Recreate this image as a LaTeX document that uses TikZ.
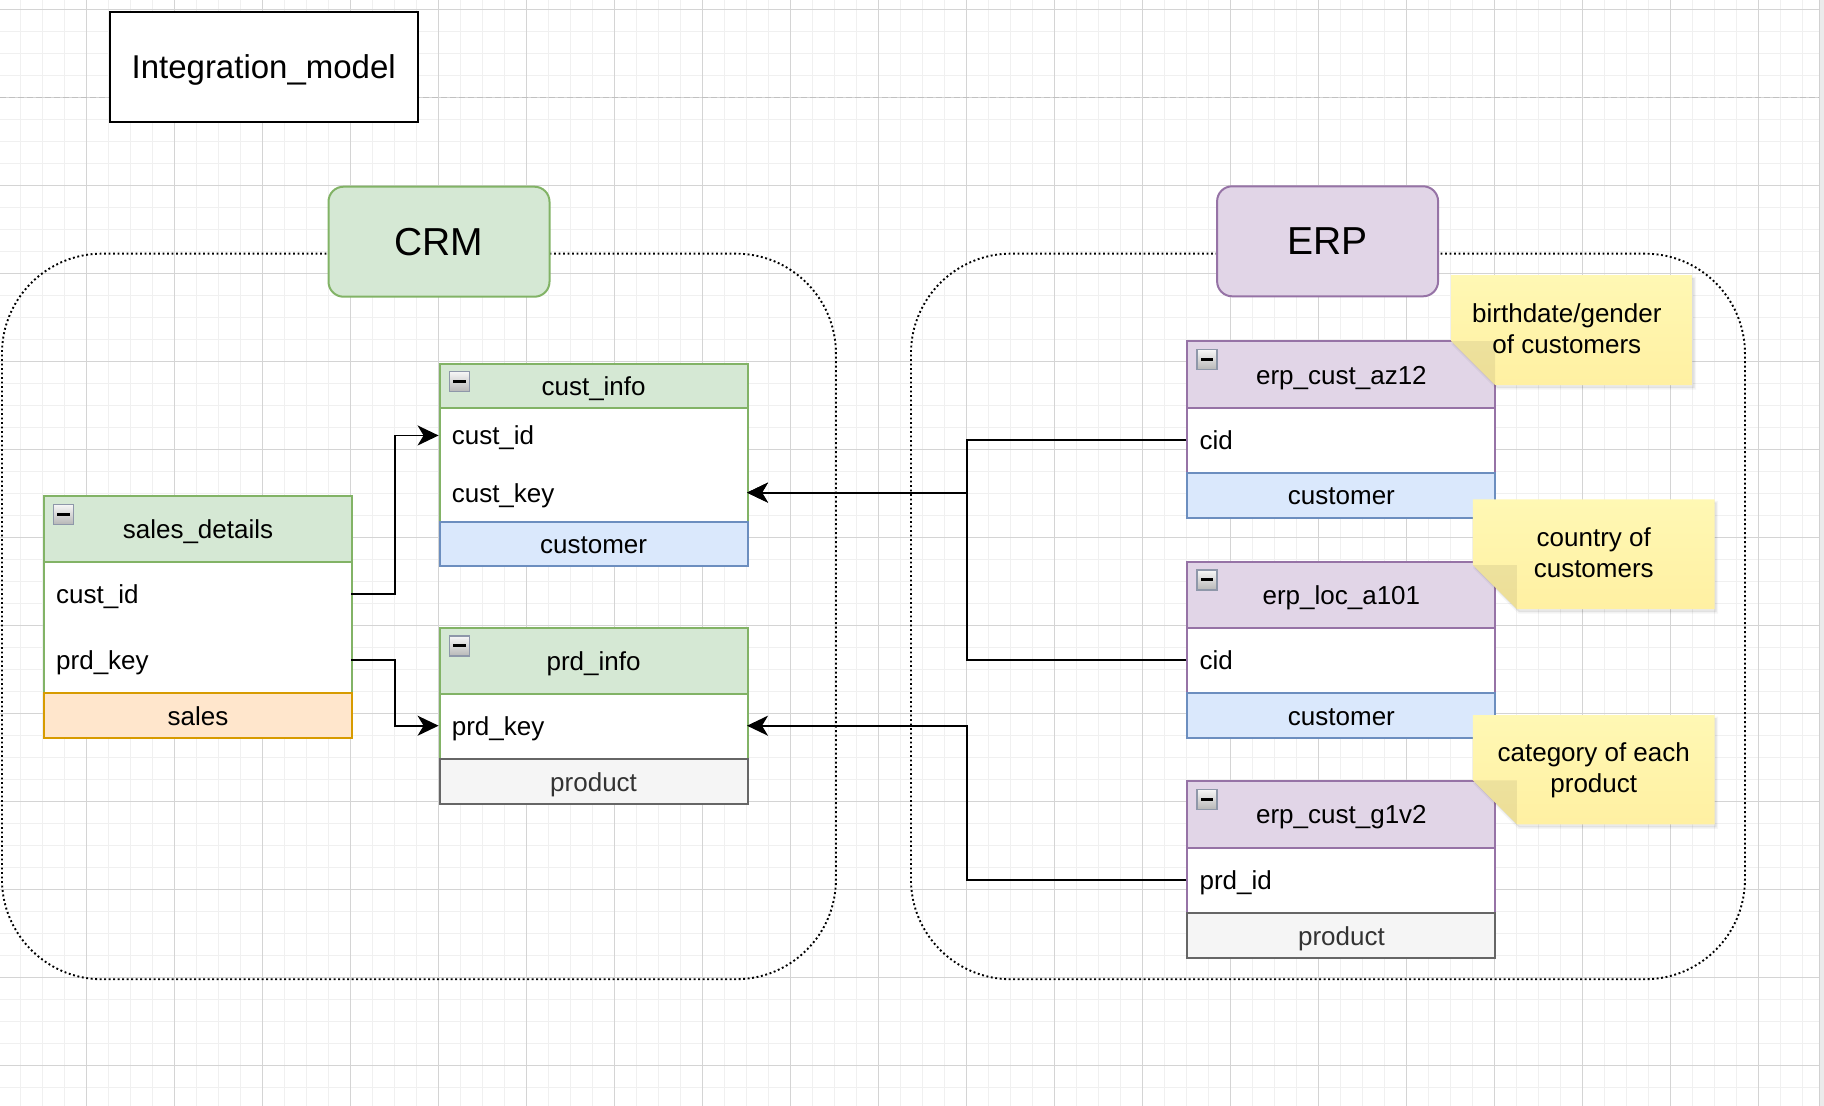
\documentclass[tikz,border=0pt]{standalone}
\usepackage{fontspec}
\setmainfont{Liberation Sans}
\usetikzlibrary{calc,arrows.meta}

% palette
\definecolor{gridminor}{HTML}{F0F0F0}
\definecolor{gridmajor}{HTML}{D4D4D4}
\definecolor{pagebrk}{HTML}{C0C0C0}
\definecolor{grnfill}{HTML}{D5E8D4}
\definecolor{grnline}{HTML}{82B366}
\definecolor{purfill}{HTML}{E1D5E7}
\definecolor{purline}{HTML}{9673A6}
\definecolor{bluefill}{HTML}{DAE8FC}
\definecolor{blueline}{HTML}{6C8EBF}
\definecolor{orgfill}{HTML}{FFE6CC}
\definecolor{orgline}{HTML}{D79B00}
\definecolor{grayfill}{HTML}{F5F5F5}
\definecolor{grayline}{HTML}{666666}
\definecolor{graytext}{HTML}{333333}
\definecolor{notetop}{HTML}{FFF8B4}
\definecolor{notebot}{HTML}{FFF0A2}
\definecolor{iconline}{HTML}{8E97A9}

\newcommand\fsField{\fontsize{26pt}{31pt}\selectfont}
\newcommand\fsTitle{\fontsize{33pt}{40pt}\selectfont}
\newcommand\fsLabel{\fontsize{39pt}{47pt}\selectfont}

% sticky note: name, left, top, right, bottom, text x-offset, text
\newcommand\stickynote[7]{%
  \fill[black, opacity=.08, shift={(2pt,-3pt)}]
    (#2,#3) -- (#4,#3) -- (#4,#5) -- ({#2+44},#5) -- (#2,{#5-44}) -- cycle;
  \draw[black, opacity=.04, line width=3pt, shift={(2pt,-3pt)}]
    (#2,#3) -- (#4,#3) -- (#4,#5) -- ({#2+44},#5) -- (#2,{#5-44}) -- cycle;
  \shade[top color=notetop, bottom color=notebot]
    (#2,#3) -- (#4,#3) -- (#4,#5) -- ({#2+44},#5) -- (#2,{#5-44}) -- cycle;
  \fill[black, opacity=.07] (#2,{#5-44}) -- ({#2+44},{#5-44}) -- ({#2+44},#5) -- cycle;
  \node[notetext] (#1) at ({(#2+#4)/2+#6},{(#3+#5)/2}) {#7};
}

\tikzset{
  tblcell/.style={draw, line width=2pt, minimum width=308pt, anchor=north west,
    inner sep=0pt, font=\fsField, text height=23.5pt, text depth=4.5pt},
  tblhead/.style={tblcell, fill=#1fill, draw=#1line},
  tblbody/.style={tblcell, fill=white, draw=#1line},
  tblfoot/.style={tblcell, fill=#1fill, draw=#1line},
  fieldrow/.style={anchor=north west, text width=282pt, inner xsep=13pt, inner ysep=0pt,
    align=left, font=\fsField, text height=23.5pt, text depth=4.5pt},
  minusicon/.style={anchor=north west, minimum width=20pt, minimum height=20pt, inner sep=0pt,
    draw=iconline, line width=1.3pt, top color=black!3, bottom color=black!28,
    path picture={\fill[black] ([xshift=-6.3pt,yshift=-1.4pt]path picture bounding box.center)
      rectangle ([xshift=6.3pt,yshift=1.4pt]path picture bounding box.center);}},
  areabox/.style={anchor=north west, draw, line width=1.9pt, dash pattern=on 1.9pt off 2.6pt,
    rounded corners=100pt, inner sep=0pt},
  groupbox/.style={draw, line width=2pt, rounded corners=15pt, minimum width=221pt,
    minimum height=110pt, inner sep=0pt, font=\fsLabel, text height=30pt, text depth=3.4pt},
  conn/.style={line width=1.9pt, -{Stealth[length=21pt,width=20pt,inset=6pt]}},
  % two-line notes: the box baseline is the last line's baseline
  notetext/.style={align=center, font=\fsField, text height=51pt, text depth=4.4pt, inner sep=0pt},
}

\begin{document}
\begin{tikzpicture}[x=1pt,y=-1pt]
\useasboundingbox (0,0) rectangle (1824,1106);
\fill[white] (0,0) rectangle (1824,1106);

% background grid
\foreach \k in {0,...,81} \draw[gridminor, line width=1.2pt] ({20.3+22*\k},0) -- ({20.3+22*\k},1106);
\foreach \k in {0,...,49} \draw[gridminor, line width=1.2pt] (0,{9.3+22*\k}) -- (1819,{9.3+22*\k});
\foreach \k in {0,...,19} \draw[gridmajor, line width=1pt] ({86.3+88*\k},0) -- ({86.3+88*\k},1106);
\foreach \k in {0,...,12} \draw[gridmajor, line width=1pt] (0,{9.3+88*\k}) -- (1819,{9.3+88*\k});

% page break and right edge
\draw[pagebrk, line width=1.5pt, dash pattern=on 6pt off 3pt] (0,97.7) -- (1819,97.7);
\fill[black!8] (1819,0) rectangle (1824,1106);
\draw[black!18, line width=0.8pt] (1819,0) -- (1819,1106);

% title
\node[draw, line width=2pt, fill=white, minimum width=308pt, minimum height=110pt, inner sep=0pt,
  anchor=north west, font=\fsTitle, text height=28pt, text depth=4.8pt] (title) at (108.7,10.7) {Integration\_model};

% system areas
\node[areabox, minimum width=834pt, minimum height=725.6pt] (crm-area) at (1,252.7) {};
\node[areabox, minimum width=834pt, minimum height=725.6pt] (erp-area) at (910,252.7) {};
\node[groupbox, fill=grnfill, draw=grnline] (crm) at (439,241.7) {CRM};
\node[groupbox, fill=purfill, draw=purline] (erp) at (1327.6,241.3) {ERP};

% ---- CRM tables ----
% sales_details
\node[tblhead=grn, minimum height=65.7pt] (sd-h) at (43,495) {sales\_details};
\node[minusicon] (sd-icon) at (53,503.5) {};
\node[tblbody=grn, minimum height=131.6pt] (sd-b) at (43,560.7) {};
\node[fieldrow, minimum height=65.8pt] (sd-custid) at (43,560.7) {cust\_id};
\node[fieldrow, minimum height=65.8pt] (sd-prdkey) at (43,626.5) {prd\_key};
\node[tblfoot=org, minimum height=44.4pt] (sd-f) at (43,692.3) {sales};

% cust_info
\node[tblhead=grn, minimum height=44pt] (ci-h) at (438.6,362.7) {cust\_info};
\node[minusicon] (ci-icon) at (448.6,370.7) {};
\node[tblbody=grn, minimum height=114.3pt] (ci-b) at (438.6,406.7) {};
\node[fieldrow, minimum height=57.15pt] (ci-custid) at (438.6,406.7) {cust\_id};
\node[fieldrow, minimum height=57.15pt] (ci-custkey) at (438.6,463.85) {cust\_key};
\node[tblfoot=blue, minimum height=44.3pt] (ci-f) at (438.6,521) {customer};

% prd_info
\node[tblhead=grn, minimum height=66pt] (pi-h) at (438.6,626.7) {prd\_info};
\node[minusicon] (pi-icon) at (448.6,635.2) {};
\node[tblbody=grn, minimum height=65.6pt] (pi-b) at (438.6,692.7) {};
\node[fieldrow, minimum height=65.6pt] (pi-prdkey) at (438.6,692.7) {prd\_key};
\node[tblfoot=gray, text=graytext, minimum height=44.4pt] (pi-f) at (438.6,758.3) {product};

% ---- ERP tables ----
% erp_cust_az12
\node[tblhead=pur, minimum height=66.4pt] (az-h) at (1186.4,340.3) {erp\_cust\_az12};
\node[minusicon] (az-icon) at (1196.4,348.8) {};
\node[tblbody=pur, minimum height=65.3pt] (az-b) at (1186.4,406.7) {};
\node[fieldrow, minimum height=65.3pt] (az-cid) at (1186.4,406.7) {cid};
\node[tblfoot=blue, minimum height=44.7pt] (az-f) at (1186.4,472) {customer};

% erp_loc_a101
\node[tblhead=pur, minimum height=66pt] (loc-h) at (1186.4,560.7) {erp\_loc\_a101};
\node[minusicon] (loc-icon) at (1196.4,569.2) {};
\node[tblbody=pur, minimum height=65.6pt] (loc-b) at (1186.4,626.7) {};
\node[fieldrow, minimum height=65.6pt] (loc-cid) at (1186.4,626.7) {cid};
\node[tblfoot=blue, minimum height=44.4pt] (loc-f) at (1186.4,692.3) {customer};

% erp_cust_g1v2
\node[tblhead=pur, minimum height=66.7pt] (g1-h) at (1186.4,780) {erp\_cust\_g1v2};
\node[minusicon] (g1-icon) at (1196.4,788.5) {};
\node[tblbody=pur, minimum height=65.6pt] (g1-b) at (1186.4,846.7) {};
\node[fieldrow, minimum height=65.6pt] (g1-prdid) at (1186.4,846.7) {prd\_id};
\node[tblfoot=gray, text=graytext, minimum height=44.4pt] (g1-f) at (1186.4,912.3) {product};

% ---- relationships ----
\draw[conn] (sd-custid.east) -- ++(44,0) |- (ci-custid.west);
\draw[conn] (sd-prdkey.east) -- ++(44,0) |- (pi-prdkey.west);
\draw[conn] (az-cid.west) -- ++(-219.7,0) |- (ci-custkey.east);
\draw[conn] (loc-cid.west) -- ++(-219.7,0) |- (ci-custkey.east);
\draw[conn] (g1-prdid.west) -- ++(-219.7,0) |- (pi-prdkey.east);

% ---- notes ----
\stickynote{note-az}{1451}{275}{1692.7}{385}{-5}{birthdate/gender\\of customers}
\stickynote{note-loc}{1472.9}{499.3}{1714.6}{609}{0}{country of\\customers}
\stickynote{note-g1}{1472.9}{715}{1714.6}{824.3}{0}{category of each\\product}
\end{tikzpicture}
\end{document}
